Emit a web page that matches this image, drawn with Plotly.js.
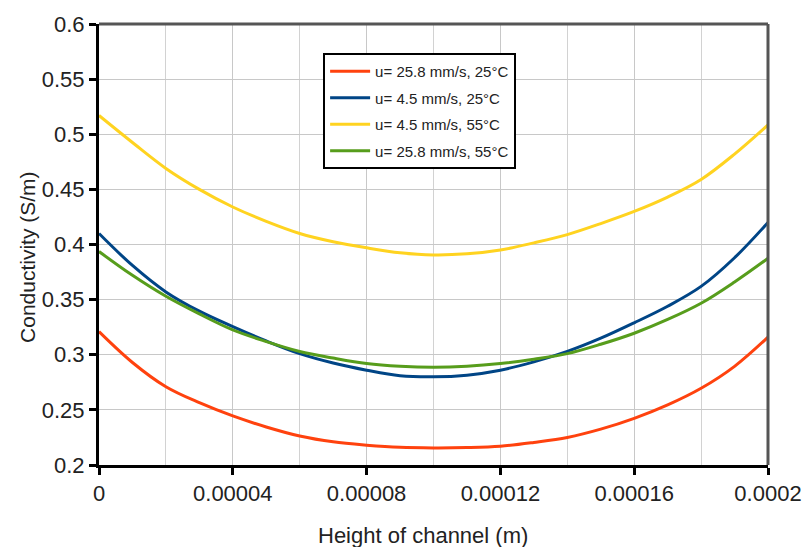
<!DOCTYPE html>
<html>
<head>
<meta charset="utf-8">
<script src="https://cdn.plot.ly/plotly-3.0.1.min.js"></script>
<style>
html,body{margin:0;padding:0;background:#fff;}
#chart{width:806px;height:547px;}
</style>
</head>
<body>
<div id="chart"></div>
<script>
var heights = [0, 0.00001, 0.00002, 0.00003, 0.00004, 0.00005, 0.00006, 0.00007, 0.00008, 0.00009, 0.0001,
               0.00011, 0.00012, 0.00013, 0.00014, 0.00015, 0.00016, 0.00017, 0.00018, 0.00019, 0.0002];
var seriesNames = ["u= 25.8 mm/s, 25°C", "u= 4.5 mm/s, 25°C", "u= 4.5 mm/s, 55°C", "u= 25.8 mm/s, 55°C"];
var red258_25 = [0.321, 0.293, 0.271, 0.2565, 0.2445, 0.2345, 0.2263, 0.221, 0.218, 0.216, 0.2155,
                 0.2158, 0.217, 0.2205, 0.225, 0.2325, 0.2423, 0.2545, 0.2696, 0.2895, 0.316];
var blue45_25 = [0.410, 0.381, 0.357, 0.3395, 0.3255, 0.3125, 0.301, 0.2925, 0.286, 0.281, 0.280,
                 0.2815, 0.286, 0.2935, 0.303, 0.315, 0.329, 0.344, 0.362, 0.388, 0.420];
var yellow45_55 = [0.517, 0.4925, 0.469, 0.450, 0.434, 0.421, 0.410, 0.4025, 0.397, 0.3925, 0.3905,
                   0.3915, 0.395, 0.4015, 0.409, 0.419, 0.430, 0.443, 0.459, 0.482, 0.5085];
var green258_55 = [0.3936, 0.372, 0.353, 0.337, 0.3225, 0.312, 0.303, 0.297, 0.292, 0.2895, 0.2886,
                   0.2895, 0.292, 0.296, 0.301, 0.3095, 0.3195, 0.332, 0.3467, 0.366, 0.3875];
var xTickVals = [0, 0.00004, 0.00008, 0.00012, 0.00016, 0.0002];
var xTickText = ["0", "0.00004", "0.00008", "0.00012", "0.00016", "0.0002"];
var yTickVals = [0.2, 0.25, 0.3, 0.35, 0.4, 0.45, 0.5, 0.55, 0.6];
var yTickText = ["0.2", "0.25", "0.3", "0.35", "0.4", "0.45", "0.5", "0.55", "0.6"];
var xTitle = "Height of channel (m)";
var yTitle = "Conductivity (S/m)";

var colors = ["#ff420e", "#004586", "#ffd320", "#579d1c"];
var allY = [red258_25, blue45_25, yellow45_55, green258_55];

var traces = allY.map(function(ys, i){
  return {
    x: heights, y: ys, type: "scatter", mode: "lines",
    name: seriesNames[i], legendgroup: "g" + i,
    line: {color: colors[i], width: 3, shape: "spline", smoothing: 1}
  };
});

var font = "Liberation Sans, Arial, sans-serif";
var layout = {
  width: 806, height: 547,
  margin: {l: 99, r: 38, t: 24, b: 82},
  paper_bgcolor: "#fff", plot_bgcolor: "#fff",
  font: {family: font, color: "#222", size: 22},
  showlegend: true,
  legend: {
    x: 0.335, y: 0.934, xanchor: "left", yanchor: "top",
    bgcolor: "#fff", bordercolor: "#000", borderwidth: 2,
    font: {family: font, size: 15, color: "#222"},
    tracegroupgap: 4, itemwidth: 40
  },
  xaxis: {
    range: [0, 0.0002],
    tickmode: "array", tickvals: xTickVals, ticktext: xTickText,
    ticks: "outside", ticklen: 7, tickwidth: 3, tickcolor: "#000",
    showline: true, linecolor: "#000", linewidth: 3,
    showgrid: true, gridcolor: "#c8c8c8", gridwidth: 1,
    minor: {dtick: 0.00002, tick0: 0, showgrid: true, gridcolor: "#d2d2d2", gridwidth: 1, ticks: ""},
    zeroline: false,
    tickfont: {family: font, size: 22, color: "#222"}
  },
  yaxis: {
    range: [0.2, 0.6],
    tickmode: "array", tickvals: yTickVals, ticktext: yTickText,
    ticks: "outside", ticklen: 7, tickwidth: 3, tickcolor: "#000",
    showline: true, linecolor: "#000", linewidth: 3,
    showgrid: true, gridcolor: "#c8c8c8", gridwidth: 1,
    zeroline: false,
    tickfont: {family: font, size: 22, color: "#222"}
  },
  annotations: [
    {text: xTitle, xref: "paper", yref: "paper", x: 0.485, y: -0.159, xanchor: "center", yanchor: "middle",
     showarrow: false, font: {family: font, size: 22, color: "#222"}},
    {text: yTitle, xref: "paper", yref: "paper", x: -0.106, y: 0.472, xanchor: "center", yanchor: "middle",
     textangle: -90, showarrow: false, font: {family: font, size: 21, color: "#222"}}
  ],
  shapes: [
    {type: "line", xref: "paper", yref: "paper", x0: 0, x1: 1, y0: 1, y1: 1, line: {color: "#555", width: 3}},
    {type: "line", xref: "paper", yref: "paper", x0: 1, x1: 1, y0: 0, y1: 1, line: {color: "#555", width: 3}}
  ]
};

Plotly.newPlot("chart", traces, layout, {displayModeBar: false, staticPlot: true});
</script>
</body>
</html>
